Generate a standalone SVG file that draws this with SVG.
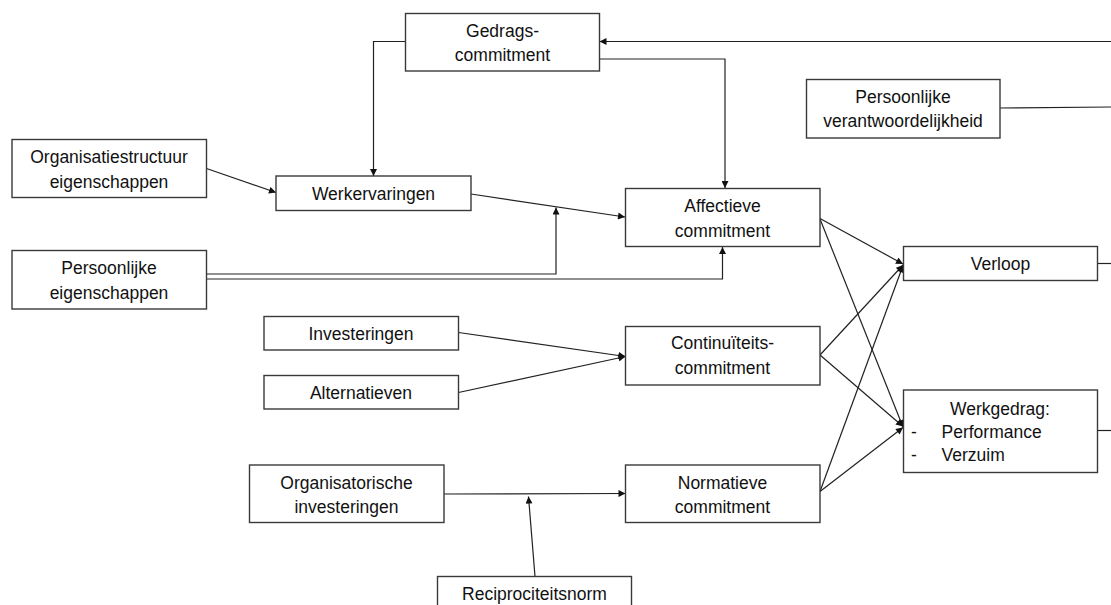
<svg xmlns="http://www.w3.org/2000/svg" width="1111" height="605" viewBox="0 0 1111 605">
<style>
.box{fill:#fff;stroke:#3a3a3a;stroke-width:1.4}
.t{font-family:"Liberation Sans",Arial,sans-serif;font-size:17.5px;fill:#111;text-anchor:middle}
.tl{font-family:"Liberation Sans",Arial,sans-serif;font-size:17.5px;fill:#111}
.c{fill:none;stroke:#222;stroke-width:1.2}
.a{marker-end:url(#ah)}
</style>
<defs>
<marker id="ah" viewBox="0 0 10 10" refX="10" refY="5" markerWidth="8" markerHeight="7" markerUnits="userSpaceOnUse" orient="auto">
<path d="M0,0 L10,5 L0,10 z" fill="#111"/>
</marker>
</defs>
<rect width="1111" height="605" fill="#fff"/>
<g id="connectors">
<path class="c a" d="M1111,41.5 H599.5"/>
<path class="c a" d="M405,41.5 H373.5 V176"/>
<path class="c a" d="M599,59 H725 V188"/>
<path class="c" d="M1000,108 L1111,107"/>
<path class="c a" d="M206.5,168.5 L276,192.5"/>
<path class="c a" d="M471,194 L625,217"/>
<path class="c a" d="M206.5,274 H556 V207.5"/>
<path class="c a" d="M206.5,279 H722.5 V247"/>
<path class="c a" d="M458.5,332.5 L625.5,356.5"/>
<path class="c a" d="M458.5,392.5 L625.5,356.5"/>
<path class="c a" d="M444,494 L625.5,493.5"/>
<path class="c a" d="M535,576.5 L528.5,496.5"/>
<path class="c a" d="M820,218.5 L903,264"/>
<path class="c a" d="M820,219 L903,427"/>
<path class="c a" d="M820,355 L903,265"/>
<path class="c a" d="M820,355 L903,426.5"/>
<path class="c a" d="M820,491.5 L903,265.5"/>
<path class="c a" d="M820,491.5 L903,427.5"/>
<path class="c" d="M1097.5,263.5 H1111"/>
<path class="c" d="M1097.5,430.5 H1111"/>
</g>
<g id="gedrags">
<rect class="box" x="405.5" y="13.5" width="194" height="57.5"/>
<text class="t" x="502.5" y="37">Gedrags-</text>
<text class="t" x="502.5" y="61">commitment</text>
</g>
<g id="verantwoordelijkheid">
<rect class="box" x="806.5" y="79.5" width="193.5" height="58.5"/>
<text class="t" x="903" y="103">Persoonlijke</text>
<text class="t" x="903" y="127">verantwoordelijkheid</text>
</g>
<g id="organisatiestructuur">
<rect class="box" x="12" y="139.5" width="194.5" height="58"/>
<text class="t" x="109" y="163">Organisatiestructuur</text>
<text class="t" x="109" y="188">eigenschappen</text>
</g>
<g id="werkervaringen">
<rect class="box" x="276" y="176" width="195" height="34.5"/>
<text class="t" x="373.5" y="199.5">Werkervaringen</text>
</g>
<g id="affectieve">
<rect class="box" x="625.5" y="188.5" width="194.5" height="58"/>
<text class="t" x="722.5" y="212">Affectieve</text>
<text class="t" x="722.5" y="237">commitment</text>
</g>
<g id="persoonlijke-eigenschappen">
<rect class="box" x="12" y="250.5" width="194.5" height="58.5"/>
<text class="t" x="109" y="274">Persoonlijke</text>
<text class="t" x="109" y="299">eigenschappen</text>
</g>
<g id="verloop">
<rect class="box" x="903.5" y="246.5" width="194" height="34"/>
<text class="t" x="1000.5" y="269.5">Verloop</text>
</g>
<g id="investeringen">
<rect class="box" x="264" y="316.5" width="194.5" height="33.5"/>
<text class="t" x="361" y="339.5">Investeringen</text>
</g>
<g id="continuiteits">
<rect class="box" x="625.5" y="326.5" width="194.5" height="58.5"/>
<text class="t" x="722.5" y="349">Continuïteits-</text>
<text class="t" x="722.5" y="374">commitment</text>
</g>
<g id="alternatieven">
<rect class="box" x="264" y="375.5" width="194.5" height="33.5"/>
<text class="t" x="361" y="398.5">Alternatieven</text>
</g>
<g id="werkgedrag">
<rect class="box" x="903.5" y="390" width="194" height="82.5"/>
<text class="t" x="1000" y="414.5">Werkgedrag:</text>
<text class="tl" x="911" y="438">-</text>
<text class="tl" x="941.5" y="438">Performance</text>
<text class="tl" x="911" y="461">-</text>
<text class="tl" x="941.5" y="461">Verzuim</text>
</g>
<g id="organisatorische">
<rect class="box" x="249.5" y="465" width="194.5" height="57.5"/>
<text class="t" x="346.5" y="489">Organisatorische</text>
<text class="t" x="346.5" y="513">investeringen</text>
</g>
<g id="normatieve">
<rect class="box" x="625.5" y="465" width="194.5" height="57.5"/>
<text class="t" x="722.5" y="489">Normatieve</text>
<text class="t" x="722.5" y="513">commitment</text>
</g>
<g id="reciprociteitsnorm">
<rect class="box" x="437.5" y="576.5" width="194" height="40"/>
<text class="t" x="534.5" y="599.5">Reciprociteitsnorm</text>
</g>
</svg>
